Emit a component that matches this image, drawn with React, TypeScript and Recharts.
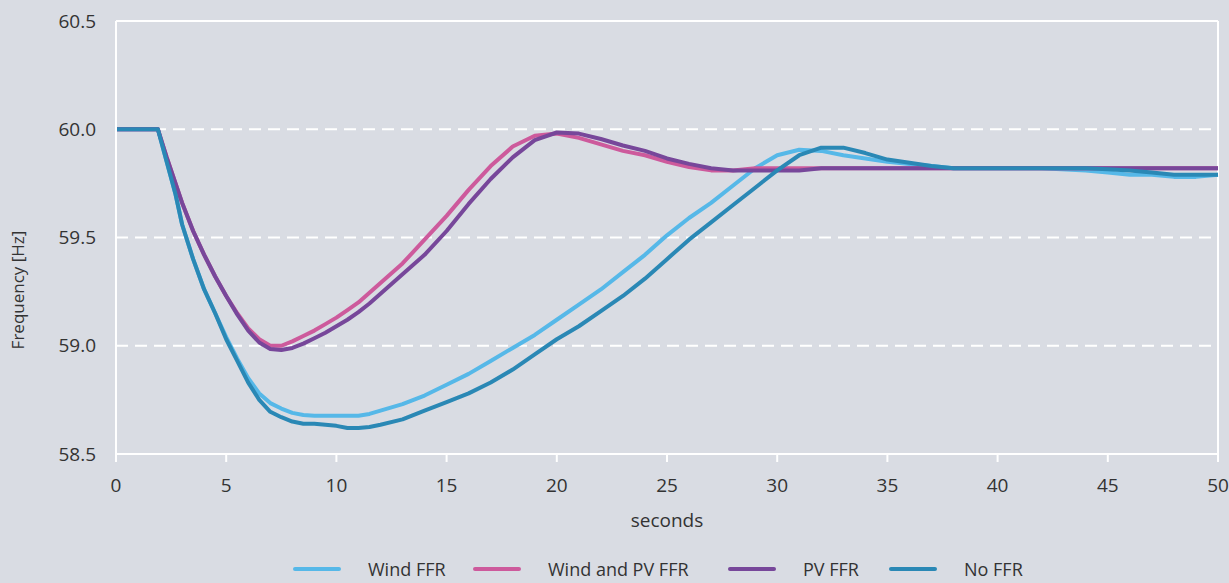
import React from 'react';
import { LineChart, Line, XAxis, YAxis, CartesianGrid, Legend, ReferenceLine } from 'recharts';

const time = [0, 1.9, 2.3, 2.7, 3.0, 3.5, 4.0, 4.5, 5.0, 5.5, 6.0, 6.5, 7.0, 7.5, 8, 8.5, 9, 9.5, 10, 10.5, 11, 11.5, 12, 13, 14, 15, 16, 17, 18, 19, 20, 21, 22, 23, 24, 25, 26, 27, 28, 29, 30, 31, 32, 33, 34, 35, 36, 37, 38, 40, 42, 44, 45, 46, 47, 48, 49, 50];

const windFFR = [60, 60, 59.85, 59.7, 59.56, 59.4, 59.26, 59.15, 59.04, 58.94, 58.85, 58.78, 58.735, 58.71, 58.69, 58.68, 58.677, 58.677, 58.677, 58.677, 58.677, 58.685, 58.7, 58.73, 58.77, 58.82, 58.87, 58.93, 58.99, 59.05, 59.12, 59.19, 59.26, 59.34, 59.42, 59.51, 59.59, 59.66, 59.74, 59.82, 59.88, 59.905, 59.9, 59.88, 59.865, 59.85, 59.84, 59.83, 59.82, 59.82, 59.82, 59.81, 59.8, 59.79, 59.79, 59.78, 59.78, 59.79];

const windPvFFR = [60, 60, 59.87, 59.75, 59.66, 59.53, 59.42, 59.32, 59.23, 59.15, 59.08, 59.03, 59.0, 59.0, 59.02, 59.045, 59.07, 59.1, 59.13, 59.165, 59.2, 59.245, 59.29, 59.38, 59.49, 59.6, 59.72, 59.83, 59.92, 59.97, 59.98, 59.96, 59.93, 59.9, 59.88, 59.85, 59.825, 59.81, 59.81, 59.82, 59.82, 59.82, 59.82, 59.82, 59.82, 59.82, 59.82, 59.82, 59.82, 59.82, 59.82, 59.82, 59.82, 59.82, 59.82, 59.82, 59.82, 59.82];

const pvFFR = [60, 60, 59.87, 59.75, 59.66, 59.53, 59.42, 59.32, 59.23, 59.145, 59.07, 59.015, 58.985, 58.98, 58.99, 59.01, 59.035, 59.06, 59.09, 59.12, 59.155, 59.195, 59.24, 59.33, 59.42, 59.53, 59.655, 59.77, 59.87, 59.95, 59.985, 59.98, 59.955, 59.925, 59.9, 59.865, 59.84, 59.82, 59.81, 59.81, 59.81, 59.81, 59.82, 59.82, 59.82, 59.82, 59.82, 59.82, 59.82, 59.82, 59.82, 59.82, 59.82, 59.82, 59.82, 59.82, 59.82, 59.82];

const noFFR = [60, 60, 59.85, 59.7, 59.56, 59.4, 59.26, 59.15, 59.03, 58.93, 58.83, 58.75, 58.695, 58.67, 58.65, 58.64, 58.64, 58.635, 58.63, 58.62, 58.62, 58.625, 58.635, 58.66, 58.7, 58.74, 58.78, 58.83, 58.89, 58.96, 59.03, 59.09, 59.16, 59.23, 59.31, 59.4, 59.49, 59.57, 59.65, 59.73, 59.81, 59.88, 59.915, 59.915, 59.89, 59.86, 59.845, 59.83, 59.82, 59.82, 59.82, 59.82, 59.815, 59.81, 59.8, 59.79, 59.79, 59.79];

const seriesNames = ['Wind FFR', 'Wind and PV FFR', 'PV FFR', 'No FFR'];
const seriesKeys = ['wind', 'windPv', 'pv', 'none'];
const seriesColors = ['#56b8e8', '#cd5a9c', '#77479a', '#2a88b5'];
const legendItemWidths = [180, 255, 161, 160];

const xTicks = [0, 5, 10, 15, 20, 25, 30, 35, 40, 45, 50];
const yTicks = [58.5, 59.0, 59.5, 60.0, 60.5];

const xLabel = 'seconds';
const yLabel = 'Frequency [Hz]';

const data = time.map((t, i) => ({
  t,
  wind: windFFR[i],
  windPv: windPvFFR[i],
  pv: pvFFR[i],
  none: noFFR[i],
}));

const FONT = '"Open Sans", sans-serif';
const TEXT = '#333333';
const BG = '#d9dce3';

const renderLegend = () => (
  <div
    style={{
      height: 30,
      boxSizing: 'border-box',
      paddingTop: 4,
      paddingBottom: 2,
      paddingLeft: 293,
      display: 'flex',
      alignItems: 'center',
      fontFamily: FONT,
      fontSize: 18,
      lineHeight: '18px',
      color: TEXT,
      whiteSpace: 'nowrap',
    }}
  >
    {seriesNames.map((name, i) => (
      <div key={name} style={{ display: 'flex', alignItems: 'center', width: legendItemWidths[i], flex: 'none' }}>
        <span
          style={{
            display: 'inline-block',
            width: 48,
            height: 4,
            borderRadius: 2,
            background: seriesColors[i],
            marginRight: 27,
            flex: 'none',
          }}
        />
        <span style={{ display: 'inline-block', lineHeight: '18px' }}>{name}</span>
      </div>
    ))}
  </div>
);

const YLabelContent = () => (
  <text
    x={17}
    y={290}
    transform="rotate(-90 17 290)"
    textAnchor="middle"
    dominantBaseline="central"
    fill={TEXT}
    fontFamily={FONT}
    fontSize={17}
  >
    {yLabel}
  </text>
);

export default function App() {
  return (
    <div style={{ position: 'absolute', left: 0, top: 0, width: 1229, height: 583, background: BG, overflow: 'hidden' }}>
      <LineChart
        width={1229}
        height={583}
        data={data}
        margin={{ top: 21, right: 11, bottom: 0, left: 0 }}
      >
        <CartesianGrid vertical={false} stroke="#ffffff" strokeWidth={2} strokeDasharray="12 7" />
        <XAxis
          dataKey="t"
          type="number"
          domain={[0, 50]}
          ticks={xTicks}
          height={99}
          axisLine={{ stroke: '#ffffff', strokeWidth: 2 }}
          tickLine={{ stroke: '#ffffff', strokeWidth: 2 }}
          tickSize={8}
          tickMargin={17}
          tick={{ fill: TEXT, fontSize: 19, fontFamily: FONT }}
          label={{ value: xLabel, position: 'insideBottom', offset: 26, fill: TEXT, fontSize: 19, fontFamily: FONT }}
        />
        <YAxis
          type="number"
          domain={[58.5, 60.5]}
          ticks={yTicks}
          width={116}
          axisLine={{ stroke: '#ffffff', strokeWidth: 2 }}
          tickLine={false}
          tickSize={0}
          tickMargin={20}
          tickFormatter={(v: number) => v.toFixed(1)}
          tick={{ fill: TEXT, fontSize: 19, fontFamily: FONT }}
          label={{ content: <YLabelContent /> }}
        />
        <ReferenceLine y={60.5} stroke="#ffffff" strokeWidth={2} />
        <ReferenceLine x={50} stroke="#ffffff" strokeWidth={2} />
        <Legend verticalAlign="bottom" content={renderLegend} wrapperStyle={{ left: 0, bottom: 0, width: 1229 }} />
        {seriesKeys.map((k, i) => (
          <Line
            key={k}
            type="linear"
            dataKey={k}
            name={seriesNames[i]}
            stroke={seriesColors[i]}
            strokeWidth={4}
            dot={false}
            activeDot={false}
            strokeLinejoin="round"
            isAnimationActive={false}
          />
        ))}
      </LineChart>
    </div>
  );
}
